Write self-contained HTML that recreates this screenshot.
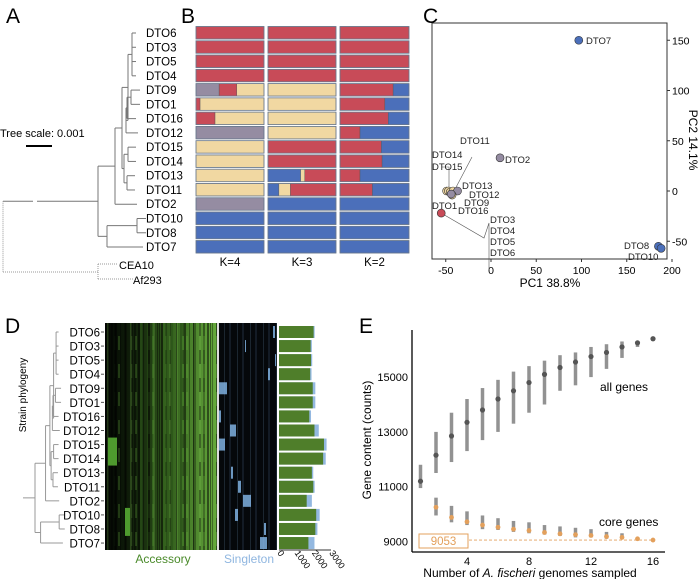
<!DOCTYPE html>
<html><head><meta charset="utf-8"><style>
body{margin:0;background:#fff;width:700px;height:579px;overflow:hidden;font-family:"Liberation Sans",sans-serif}
svg text{font-family:"Liberation Sans",sans-serif}
</style></head><body>
<svg id="fig" width="700" height="579" viewBox="0 0 700 579" xmlns="http://www.w3.org/2000/svg">
<defs>
<linearGradient id="accG" x1="0" x2="1" y1="0" y2="0">
<stop offset="0" stop-color="#030603"/><stop offset="0.3" stop-color="#14260c"/><stop offset="0.6" stop-color="#35621e"/><stop offset="1" stop-color="#66aa3c"/>
</linearGradient>
<pattern id="stripes" width="23" height="14" patternUnits="userSpaceOnUse">
<rect x="0" y="0" width="2" height="14" fill="#000" opacity="0.5"/>
<rect x="5" y="0" width="1" height="14" fill="#000" opacity="0.35"/>
<rect x="9" y="0" width="3" height="14" fill="#000" opacity="0.3"/>
<rect x="15" y="0" width="2" height="14" fill="#7bc050" opacity="0.25"/>
<rect x="19" y="0" width="2" height="14" fill="#000" opacity="0.4"/>
</pattern>
<pattern id="stripes2" width="17" height="28" patternUnits="userSpaceOnUse" patternTransform="translate(4,0)">
<rect x="2" y="0" width="1" height="28" fill="#000" opacity="0.45"/>
<rect x="8" y="14" width="2" height="14" fill="#000" opacity="0.35"/>
<rect x="12" y="0" width="2" height="14" fill="#6ab040" opacity="0.25"/>
</pattern>
<pattern id="sstripes" width="13" height="14" patternUnits="userSpaceOnUse">
<rect x="3" y="0" width="1" height="14" fill="#2a3a4a" opacity="0.6"/>
<rect x="8" y="0" width="2" height="14" fill="#1a2430" opacity="0.7"/>
</pattern>
</defs>
<g id="gA"></g>
<g id="gB"></g>
<g id="gC"></g>
<g id="gD"></g>
<g id="gE"></g>
</svg>
<script>
const strains=["DTO6","DTO3","DTO5","DTO4","DTO9","DTO1","DTO16","DTO12","DTO15","DTO14","DTO13","DTO11","DTO2","DTO10","DTO8","DTO7"];
const k4=[[["r",1]],[["r",1]],[["r",1]],[["r",1]],[["g",.34],["r",.26],["y",.40]],[["r",.06],["y",.94]],[["r",.28],["y",.72]],[["g",1]],[["y",1]],[["y",1]],[["y",1]],[["y",1]],[["g",1]],[["b",1]],[["b",1]],[["b",1]]];
const k3=[[["r",1]],[["r",1]],[["r",1]],[["r",1]],[["y",1]],[["y",1]],[["y",1]],[["y",1]],[["r",1]],[["r",1]],[["b",.48],["y",.06],["r",.46]],[["b",.16],["y",.17],["r",.67]],[["b",1]],[["b",1]],[["b",1]],[["b",1]]];
const k2red=[1,1,1,1,.77,.65,.70,.29,.60,.61,.29,.47,0,0,0,0];
const pcaNames=["DTO7","DTO2","DTO1","DTO14","DTO15","DTO11","DTO13","DTO12","DTO9","DTO16","DTO8","DTO10"];
const pc1=[97,10,-55,-49,-47,-45,-42,-37,-43,-44,185,188];
const pc2=[150,33,-22,0,0,-1,0,0,-4,-3,-55,-57];
const pcaGroup=["b","g","r","y","y","y","y","g","y","g","b","b"];
const accessory=[2000,1830,1850,1800,1950,1950,1750,2050,2600,2550,1900,1980,1600,2150,2100,1700];
const singleton=[60,70,70,80,150,150,100,250,150,150,80,80,300,200,120,350];
const xTicksC=[-50,0,50,100,150,200];
const yTicksC=[-50,0,50,100,150];
const nSampled=[1,2,3,4,5,6,7,8,9,10,11,12,13,14,15,16];
const allMean=[11200,12150,12850,13350,13800,14200,14500,14800,15100,15350,15550,15750,15900,16100,16250,16400];
const allMin=[10950,11500,11900,12300,12700,13000,13300,13700,14000,14500,14700,15000,15300,15700,16100,16400];
const allMax=[11800,13000,13700,14200,14600,14900,15200,15400,15600,15800,15900,16100,16200,16300,16300,16400];
const coreMean=[null,10250,9880,9720,9600,9520,9450,9400,9330,9280,9250,9220,9180,9150,9100,9053];
const coreMin=[null,9950,9700,9600,9450,9420,9350,9300,9250,9200,9150,9150,9100,9100,9100,9053];
const coreMax=[null,10600,10300,10100,9950,9850,9750,9700,9600,9550,9500,9450,9350,9300,9100,9053];
const xTicksE=[4,8,12,16];
const yTicksE=[9000,11000,13000,15000];
const distTicks=[0,1000,2000,3000];

const NS="http://www.w3.org/2000/svg";
const COL={r:"#c84b58",y:"#f1d8a2",g:"#958ca2",b:"#4b6fba"};
function el(p,tag,a,txt){const e=document.createElementNS(NS,tag);for(const k in a)e.setAttribute(k,a[k]);if(txt!==undefined)e.textContent=txt;p.appendChild(e);return e;}
const fig=document.getElementById('fig');
function letter(t,x,y){const e=el(fig,'text',{x:x,y:y,'font-size':21},t);

}
letter('A',6,23);letter('B',181,23);letter('C',423,23);letter('D',5,333);letter('E',359,333);

const tree={x:98,c:[{x:115,c:[{x:122,c:[{x:128,c:[{x:132,c:[0,1,2,3]},{x:126,c:[{x:127,c:[{x:131,c:[4,5]},6]},7]}]},{x:124,c:[{x:128,c:[8,9]},{x:127,c:[10,11]}]}]},12]},{x:107,c:[{x:137,c:[13,14]},15]}]};
const tipX=[136,136,136,136,140,140,136,138,136,136,135,135,137,146,146,143];
function drawTree(g,rowY,fx,stroke){
  function rec(n){ if(typeof n==='number') return rowY(n);
    const ys=n.c.map(rec); const y=(Math.min(...ys)+Math.max(...ys))/2;
    el(g,'line',{x1:fx(n.x),x2:fx(n.x),y1:Math.min(...ys),y2:Math.max(...ys),stroke:stroke,'stroke-width':1});
    n.c.forEach((c,i)=>{const cx=typeof c==='number'?tipX[c]:c.x;el(g,'line',{x1:fx(n.x),x2:fx(cx),y1:ys[i],y2:ys[i],stroke:stroke,'stroke-width':1});});
    return y;}
  return rec(tree);
}
const gA=document.getElementById('gA');
const rowA=i=>33+14.27*i;
const yIn=drawTree(gA,rowA,x=>x,'#777');
el(gA,'line',{x1:3,x2:33,y1:yIn,y2:yIn,stroke:'#777'});
el(gA,'line',{x1:37,x2:98,y1:yIn,y2:yIn,stroke:'#777'});
el(gA,'line',{x1:3,x2:3,y1:yIn,y2:272,stroke:'#999','stroke-dasharray':'1,1'});
el(gA,'line',{x1:3,x2:98,y1:272,y2:272,stroke:'#999','stroke-dasharray':'1,1'});
el(gA,'line',{x1:98,x2:98,y1:264,y2:279,stroke:'#999','stroke-dasharray':'1,1'});
el(gA,'line',{x1:98,x2:118,y1:264,y2:264,stroke:'#999','stroke-dasharray':'1,1'});
el(gA,'line',{x1:98,x2:133,y1:279,y2:279,stroke:'#999','stroke-dasharray':'1,1'});
el(gA,'text',{x:119,y:269,'font-size':11},'CEA10');
el(gA,'text',{x:133,y:284,'font-size':11},'Af293');
el(gA,'text',{x:0,y:137,'font-size':11},'Tree scale: 0.001');
el(gA,'line',{x1:26,x2:52,y1:146,y2:146,stroke:'#000','stroke-width':2});
strains.forEach((s,i)=>{const t=el(gA,'text',{x:146,y:rowA(i)+4,'font-size':11.5},s);

});

const gB=document.getElementById('gB');
const cols=[[196,264],[268,336],[340,409]];
function seg(g,x0,x1,y,parts){let x=x0;parts.forEach(([c,f])=>{const w=(x1-x0)*f;const r=el(g,'rect',{x:x,y:y,width:w,height:12.5,fill:COL[c],stroke:'#555','stroke-width':0.4});

x+=w;});
el(g,'rect',{x:x0,y:y,width:x1-x0,height:12.5,fill:'none',stroke:'#6a7a90','stroke-width':0.8});}
strains.forEach((s,i)=>{const y=rowA(i)-6.5;
 seg(gB,cols[0][0],cols[0][1],y,k4[i]);
 seg(gB,cols[1][0],cols[1][1],y,k3[i]);
 seg(gB,cols[2][0],cols[2][1],y,[["r",k2red[i]],["b",1-k2red[i]]]);});
["K=4","K=3","K=2"].forEach((k,i)=>{const t=el(gB,'text',{x:(cols[i][0]+cols[i][1])/2,y:266,'font-size':11.5,'text-anchor':'middle'},k);

});

const gC=document.getElementById('gC');
const xC=v=>491+v*0.905, yC=v=>191-v*1.005;
el(gC,'rect',{x:432,y:23,width:235,height:236,fill:'none',stroke:'#333','stroke-width':1});
xTicksC.forEach(v=>{el(gC,'line',{x1:xC(v),x2:xC(v),y1:259,y2:262,stroke:'#333'});el(gC,'text',{x:xC(v),y:274,'font-size':10.5,'text-anchor':'middle'},v);});
yTicksC.forEach(v=>{el(gC,'line',{x1:667,x2:670,y1:yC(v),y2:yC(v),stroke:'#333'});el(gC,'text',{x:672,y:yC(v)+4,'font-size':10.5},v);});
el(gC,'text',{x:550,y:287,'font-size':12,'text-anchor':'middle'},'PC1 38.8%');
el(gC,'text',{x:0,y:0,'font-size':12,'text-anchor':'middle',transform:'translate(689,140) rotate(90)'},'PC2 14.1%');
el(gC,'polyline',{points:`${xC(-55)},${yC(-22)} 484,238 489,223 489,270`,fill:'none',stroke:'#555','stroke-width':0.6});
el(gC,'line',{x1:453,x2:472,y1:193,y2:157,stroke:'#555','stroke-width':0.6});
el(gC,'polyline',{points:'442,167 449,167 449,190',fill:'none',stroke:'#555','stroke-width':0.6});
pc1.forEach((v,i)=>{const c=el(gC,'circle',{cx:xC(v),cy:yC(pc2[i]),r:4,fill:COL[pcaGroup[i]],stroke:'#333','stroke-width':0.6});

});
const lab=[["DTO7",586,44],["DTO2",505,163],["DTO11",460,144],["DTO14",432,158],["DTO15",432,170],["DTO13",462,189],["DTO12",469,198],["DTO9",464,206],["DTO1",432,209],["DTO16",458,214],["DTO3",490,223],["DTO4",490,234],["DTO5",490,245],["DTO6",490,256],["DTO8",624,249],["DTO10",628,260]];
lab.forEach(([t,x,y])=>el(gC,'text',{x:x,y:y,'font-size':9.5,fill:'#222'},t));

const gD=document.getElementById('gD');
const rowD=i=>332+14.07*i;
const yD=drawTree(gD,rowD,x=>35+(x-98)*0.62,'#999');
el(gD,'line',{x1:23,x2:35,y1:yD,y2:yD,stroke:'#999'});
strains.forEach((s,i)=>{el(gD,'text',{x:100,y:rowD(i)+4.5,'font-size':11.5,'text-anchor':'end'},s);el(gD,'line',{x1:101,x2:104,y1:rowD(i),y2:rowD(i),stroke:'#555'});});
el(gD,'text',{x:0,y:0,'font-size':10,'text-anchor':'middle',transform:'translate(26,395) rotate(-90)'},'Strain phylogeny');
const hm=el(gD,'rect',{x:105,y:323,width:112,height:227,fill:'url(#accG)'});

el(gD,'rect',{x:105,y:323,width:112,height:227,fill:'url(#stripes)'});
el(gD,'rect',{x:105,y:323,width:112,height:227,fill:'url(#stripes2)'});
[[140,3],[152,2],[163,4],[171,2],[180,3],[147,1],[158,1]].forEach(([x,w])=>el(gD,'rect',{x:x,y:323,width:w,height:227,fill:'#3f7a24',opacity:0.35}));
el(gD,'rect',{x:108,y:rowD(8)-7,width:9,height:28,fill:'#4e9a2e'});
el(gD,'rect',{x:125,y:rowD(13)-7,width:5,height:28,fill:'#4e9a2e'});
const sg=el(gD,'rect',{x:219,y:323,width:58,height:227,fill:'#05080b'});

el(gD,'rect',{x:219,y:323,width:58,height:227,fill:'url(#sstripes)'});
[[273,0,2],[245,1,1],[275,2,1],[268,3,2],[219,4,8],[219,6,2],[230,7,6],[219,8,6],[231,10,2],[238,11,3],[243,12,8],[235,13,3],[264,14,2],[260,15,7]].forEach(([x,r,w])=>el(gD,'rect',{x:x,y:rowD(r)-6,width:w,height:12,fill:'#7fb0e0',opacity:0.85}));
el(gD,'line',{x1:218,x2:218,y1:323,y2:550,stroke:'#bbb'});
const xDist=v=>279+v*0.0173;
strains.forEach((s,i)=>{const y=rowD(i)-6;
 const b=el(gD,'rect',{x:279,y:y,width:xDist(accessory[i]+singleton[i])-279,height:12,fill:'#93b8e0'});
 
 const a=el(gD,'rect',{x:279,y:y,width:xDist(accessory[i])-279,height:12,fill:'#4f7e2a'});
 });
el(gD,'line',{x1:279,x2:331,y1:550,y2:550,stroke:'#333'});
distTicks.forEach(v=>el(gD,'text',{x:0,y:0,'font-size':9,transform:`translate(${xDist(v)-2},553) rotate(55)`},v));
el(gD,'text',{x:163,y:563,'font-size':12,fill:'#4a8a2a','text-anchor':'middle'},'Accessory');
el(gD,'text',{x:249,y:563,'font-size':12,fill:'#8fb6e0','text-anchor':'middle'},'Singleton');

const gE=document.getElementById('gE');
const xE=n=>420.5+(n-1)*15.5, yE=v=>541.5-(v-9000)*0.0274;
el(gE,'line',{x1:412,x2:412,y1:330,y2:552,stroke:'#000','stroke-width':1.3});
el(gE,'line',{x1:412,x2:665,y1:552,y2:552,stroke:'#000','stroke-width':1.3});
yTicksE.forEach(v=>el(gE,'text',{x:408,y:yE(v)+4,'font-size':11,'text-anchor':'end'},v));
xTicksE.forEach(v=>el(gE,'text',{x:xE(v),y:565,'font-size':11,'text-anchor':'middle'},v));
const xl=el(gE,'text',{x:530,y:577,'font-size':12,'text-anchor':'middle'});
xl.innerHTML='Number of <tspan font-style="italic">A. fischeri</tspan> genomes sampled';
el(gE,'text',{x:0,y:0,'font-size':12,'text-anchor':'middle',transform:'translate(371,440) rotate(-90)'},'Gene content (counts)');
el(gE,'line',{x1:419,x2:655,y1:yE(9053),y2:yE(9053),stroke:'#e3a05c','stroke-dasharray':'3,2','stroke-width':0.8});
el(gE,'rect',{x:419,y:534,width:49,height:14,fill:'#fff',stroke:'#e3a05c'});
el(gE,'text',{x:443.5,y:545,'font-size':11.5,fill:'#e3a05c','text-anchor':'middle'},'9053');
nSampled.forEach((n,i)=>{
 el(gE,'line',{x1:xE(n),x2:xE(n),y1:yE(allMin[i]),y2:yE(allMax[i]),stroke:'#777','stroke-width':3.5,opacity:0.8});
 const p=el(gE,'circle',{cx:xE(n),cy:yE(allMean[i]),r:2.6,fill:'#555'});
 
 if(coreMean[i]!==null){
 el(gE,'line',{x1:xE(n),x2:xE(n),y1:yE(coreMin[i]),y2:yE(coreMax[i]),stroke:'#777','stroke-width':3.5,opacity:0.8});
 const q=el(gE,'circle',{cx:xE(n),cy:yE(coreMean[i]),r:2.4,fill:'#e3a05c'});
 }
});
el(gE,'text',{x:600,y:391,'font-size':12},'all genes');
el(gE,'text',{x:599,y:526,'font-size':12},'core genes');
</script>
</body></html>
